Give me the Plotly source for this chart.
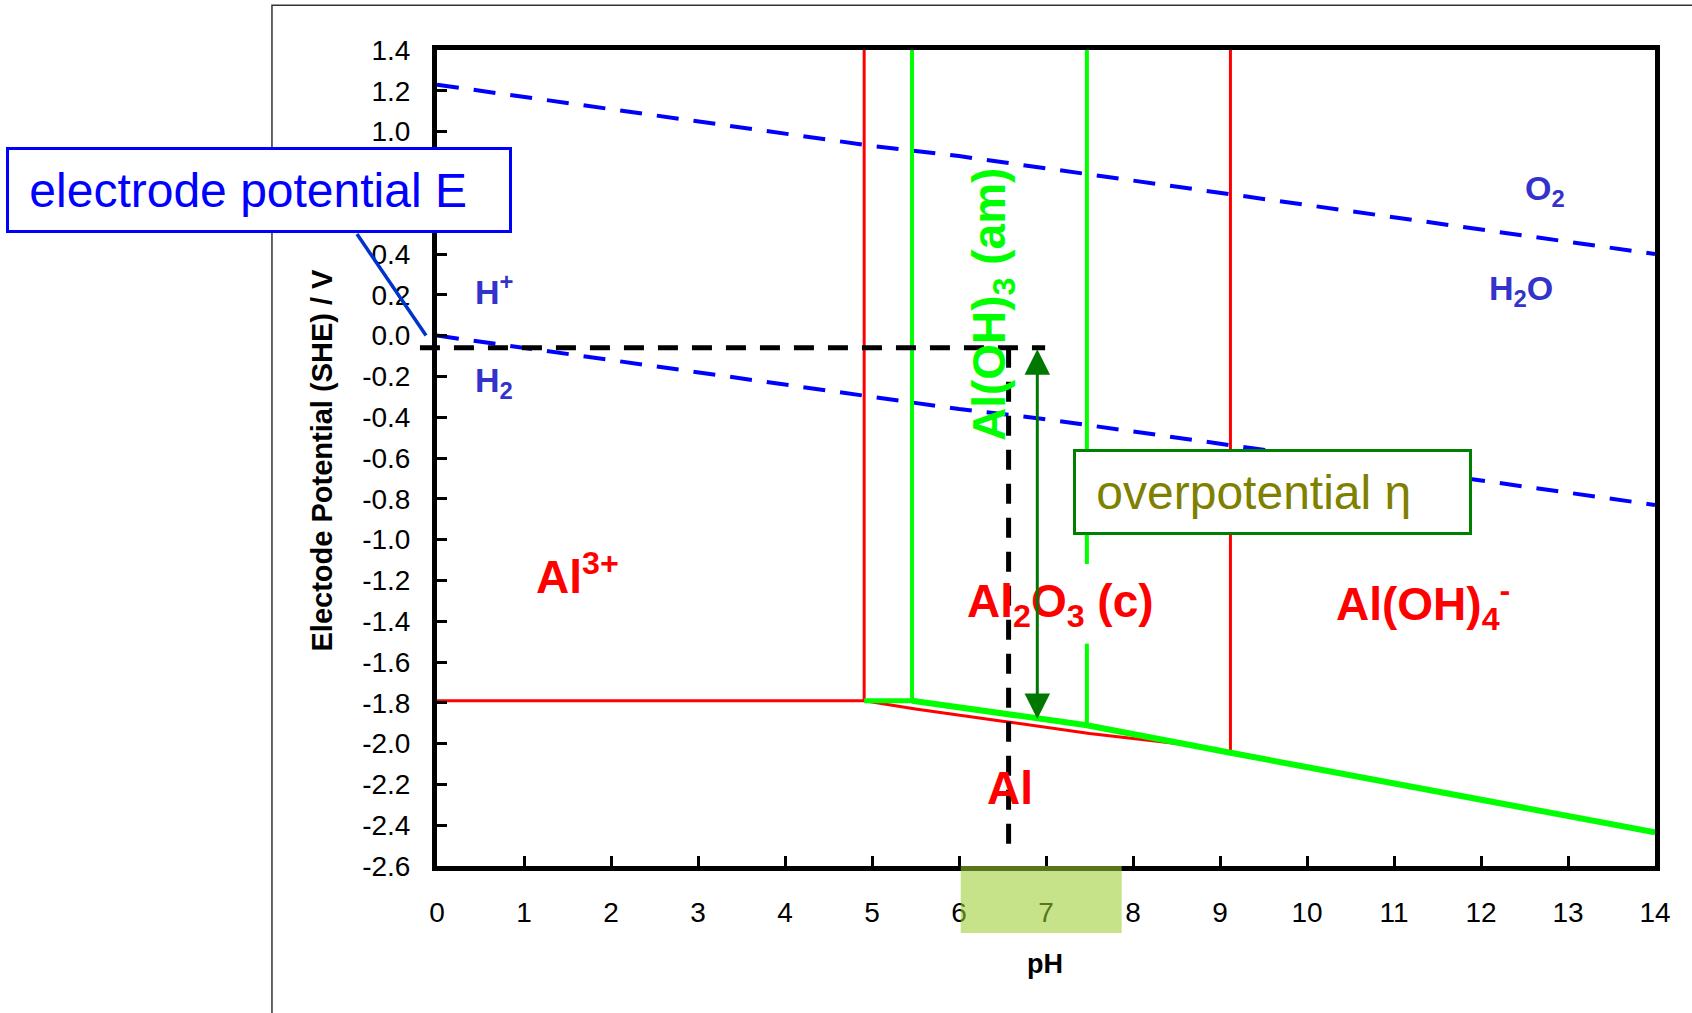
import plotly.graph_objects as go

# ---------------- data ----------------
ph_range = [0, 14]
e_range = [-2.6, 1.4]
x_tick_vals = [0, 1, 2, 3, 4, 5, 6, 7, 8, 9, 10, 11, 12, 13, 14]
y_tick_vals = [1.4, 1.2, 1.0, 0.8, 0.6, 0.4, 0.2, 0.0, -0.2, -0.4, -0.6, -0.8, -1.0,
               -1.2, -1.4, -1.6, -1.8, -2.0, -2.2, -2.4, -2.6]

# water stability lines (dashed blue)
ph_water = [0, 1, 2, 3, 4, 5, 6, 7, 8, 9, 10, 11, 12, 13, 14]
e_o2_h2o = [1.23, 1.17, 1.11, 1.05, 0.99, 0.93, 0.88, 0.82, 0.76, 0.70, 0.64, 0.58, 0.52, 0.46, 0.40]
e_h_h2 = [0.00, -0.06, -0.12, -0.18, -0.24, -0.30, -0.36, -0.41, -0.47, -0.53, -0.59, -0.65, -0.71, -0.77, -0.83]

# red boundaries (Al2O3 (c) system)
red_al3_ph = [0, 4.91]
red_al3_e = [-1.79, -1.79]
red_v1_ph = [4.91, 4.91]
red_v1_e = [-1.79, 1.4]
red_slope_ph = [4.91, 5.5, 6.5, 7.5, 8.5, 9.12, 14]
red_slope_e = [-1.79, -1.83, -1.89, -1.95, -2.00, -2.04, -2.435]
red_v2_ph = [9.12, 9.12]
red_v2_e = [-2.04, 1.4]

# green boundaries (Al(OH)3 (am) system)
green_h_ph = [4.91, 5.46]
green_h_e = [-1.79, -1.79]
green_v1_ph = [5.46, 5.46]
green_v1_e = [-1.79, 1.4]
green_slope_ph = [5.46, 6.5, 7.47, 9.12, 14]
green_slope_e = [-1.79, -1.85, -1.91, -2.045, -2.435]
green_v2_ph = [7.47, 7.47, None, 7.47, 7.47]
green_v2_e = [1.4, -1.12, None, -1.51, -1.91]

# operating point / overpotential
ph_operating = 6.57
e_operating = -0.06
ph_dash_end = 6.99
e_dash_bottom = -2.56
ph_arrow = 6.9
e_arrow_bottom = -1.88
ph_neutral_band = [6.02, 7.87]

FONT = "Liberation Sans, Arial, sans-serif"
BLUE_LBL = "#3333CC"

fig = go.Figure()

def line(x, y, color, width, dash=None):
    fig.add_trace(go.Scatter(x=x, y=y, mode="lines", showlegend=False, hoverinfo="skip",
                             line=dict(color=color, width=width, dash=dash)))

line(ph_water, e_o2_h2o, "#0000FF", 4, "22px,15px")
line(ph_water, e_h_h2, "#0000FF", 4, "22px,15px")
line(red_al3_ph, red_al3_e, "#FF0000", 3)
line(red_v1_ph, red_v1_e, "#FF0000", 3)
line(red_slope_ph, red_slope_e, "#FF0000", 3)
line(red_v2_ph, red_v2_e, "#FF0000", 3)
line(green_h_ph, green_h_e, "#00FF00", 5)
line(green_v1_ph, green_v1_e, "#00FF00", 4)
line(green_v2_ph, green_v2_e, "#00FF00", 4)
line(green_slope_ph, green_slope_e, "#00FF00", 6)

def px(ph):
    return (ph - ph_range[0]) / (ph_range[1] - ph_range[0])

def py(e):
    return (e - e_range[0]) / (e_range[1] - e_range[0])

shapes = [
    # outer frame
    dict(type="rect", xref="paper", yref="paper", x0=-0.1355, x1=1.2, y0=-0.4, y1=1.0547,
         line=dict(color="#333333", width=1.5), layer="below"),
    # dashed horizontal (electrode potential)
    dict(type="line", xref="paper", yref="paper", x0=-0.014, x1=px(ph_dash_end),
         y0=py(e_operating), y1=py(e_operating), line=dict(color="black", width=5, dash="20px,14px"),
         layer="above"),
    # dashed vertical (solution pH)
    dict(type="line", xref="x", yref="y", x0=ph_operating, x1=ph_operating,
         y0=e_operating, y1=e_dash_bottom, line=dict(color="black", width=5, dash="20px,14px"),
         layer="above"),
    # leader line from box to axis
    dict(type="line", xref="paper", yref="paper", x0=-0.0657, y0=0.7745, x1=-0.009, y1=py(0.0),
         line=dict(color="#0033CC", width=3.5), layer="above"),
    # neutral pH band
    dict(type="rect", xref="paper", yref="paper", x0=px(ph_neutral_band[0]), x1=px(ph_neutral_band[1]),
         y0=-0.082, y1=0, fillcolor="yellowgreen", opacity=0.57, line=dict(width=0), layer="above"),
]

def lbl(text, x, y, size, color, xanchor="center", angle=0):
    return dict(text=text, x=x, y=y, xref="x", yref="y", showarrow=False, xanchor=xanchor,
                yanchor="middle", textangle=angle,
                font=dict(family=FONT, size=size, color=color))

annotations = [
    lbl("<b>H<sup>+</sup></b>", 0.41, 0.225, 34, BLUE_LBL, "left"),
    lbl("<b>H<sub>2</sub></b>", 0.41, -0.23, 34, BLUE_LBL, "left"),
    lbl("<b>O<sub>2</sub></b>", 12.73, 0.71, 34, BLUE_LBL),
    lbl("<b>H<sub>2</sub>O</b>", 12.46, 0.22, 34, BLUE_LBL),
    lbl("<b>Al<sup>3+</sup></b>", 1.62, -1.17, 46, "#FF0000"),
    lbl("<b>Al<sub>2</sub>O<sub>3</sub> (c)</b>", 7.17, -1.32, 46, "#FF0000"),
    lbl("<b>Al(OH)<sub>4</sub><sup>-</sup></b>", 11.33, -1.32, 46, "#FF0000"),
    lbl("<b>Al</b>", 6.59, -2.22, 46, "#FF0000"),
    lbl("<b>Al(OH)<sub>3</sub> (am)</b>", 6.38, 0.15, 46, "#00FF00", angle=-90),
    # overpotential arrow
    dict(x=ph_arrow, y=e_arrow_bottom, ax=ph_arrow, ay=e_operating, xref="x", yref="y",
         axref="x", ayref="y", text="", showarrow=True, arrowhead=2, startarrowhead=2,
         arrowside="end+start", arrowsize=1.7, startarrowsize=1.7, arrowwidth=3,
         arrowcolor="#007700", standoff=0, startstandoff=0),
    # boxes
    dict(text="\u00a0electrode potential E", xref="paper", yref="paper", x=-0.354, y=0.828,
         xanchor="left", yanchor="middle", showarrow=False, align="left",
         width=486, height=66, borderpad=7, bgcolor="white", bordercolor="#0000FF", borderwidth=3,
         font=dict(family=FONT, size=48, color="#0000FF")),
    dict(text="\u00a0overpotential \u03b7", xref="paper", yref="paper", x=0.522, y=0.458,
         xanchor="left", yanchor="middle", showarrow=False, align="left",
         width=379, height=66, borderpad=7, bgcolor="white", bordercolor="#008000", borderwidth=3,
         font=dict(family=FONT, size=48, color="#808000")),
    # axis titles
    dict(text="<b>Electode Potential (SHE) / V</b>", xref="paper", yref="paper", x=-0.0944, y=0.497,
         textangle=-90, showarrow=False, xanchor="center", yanchor="middle",
         font=dict(family=FONT, size=29, color="black")),
    dict(text="<b>pH</b>", xref="paper", yref="paper", x=0.499, y=-0.12, showarrow=False,
         xanchor="center", yanchor="middle", font=dict(family=FONT, size=27, color="black")),
]

axis_common = dict(showline=True, mirror=True, linewidth=5, linecolor="black", ticks="inside",
                   ticklen=10, tickwidth=3, tickcolor="black", showgrid=False, zeroline=False,
                   tickfont=dict(family=FONT, size=28, color="black"))

fig.update_layout(
    width=1692, height=1013,
    margin=dict(l=437, r=37, t=50, b=147),
    paper_bgcolor="white", plot_bgcolor="white",
    xaxis=dict(range=ph_range, tickvals=x_tick_vals, ticktext=[str(v) for v in x_tick_vals],
               ticklabelstandoff=17, **axis_common),
    yaxis=dict(range=e_range, tickvals=y_tick_vals, ticktext=[f"{v:.1f}" for v in y_tick_vals],
               ticklabelstandoff=16, **axis_common),
    shapes=shapes,
    annotations=annotations,
)

fig.write_html("out.html")
